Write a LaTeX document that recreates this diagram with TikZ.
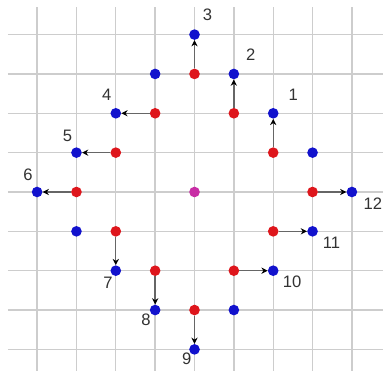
\documentclass[tikz,border=0pt]{standalone}
\usepackage{fontspec}
\setmainfont{Liberation Sans}
\usetikzlibrary{arrows.meta}
\definecolor{dotred}{RGB}{222,22,28}
\definecolor{dotblue}{RGB}{18,18,205}
\definecolor{dotmag}{RGB}{200,45,165}
\definecolor{gridgray}{RGB}{205,205,205}
\definecolor{labgray}{RGB}{50,50,50}
\tikzset{
  dotbase/.style={circle,inner sep=0pt,minimum size=0.27cm},
  reddot/.style={dotbase,fill=dotred},
  bluedot/.style={dotbase,fill=dotblue},
  magdot/.style={dotbase,fill=dotmag},
  arr/.style={draw=black!60,line width=1pt,-{Stealth[length=4.5pt,width=4.5pt,black]}},
  lab/.style={text=labgray,font=\fontsize{12}{14}\selectfont,inner sep=0pt},
  gridline/.style={draw=gridgray,line width=1pt}
}
\begin{document}
\begin{tikzpicture}
\useasboundingbox (-4.943,-4.549) rectangle (4.790,4.879);
\fill[white] (-4.943,-4.549) rectangle (4.790,4.879);
\foreach \i in {-4,...,4} {
  \draw[gridline] (\i,4.70) -- (\i,-4.6);
  \draw[gridline] (-4.74,\i) -- (4.85,\i);
}
\node[magdot] (c) at (0,0) {};
% red points
\node[reddot] (r3) at (0,3) {};
\node[reddot] (r2) at (1,2) {};
\node[reddot] (r1) at (2,1) {};
\node[reddot] (r12) at (3,0) {};
\node[reddot] (r11) at (2,-1) {};
\node[reddot] (r10) at (1,-2) {};
\node[reddot] (r9) at (0,-3) {};
\node[reddot] (r8) at (-1,-2) {};
\node[reddot] (r7) at (-2,-1) {};
\node[reddot] (r6) at (-3,0) {};
\node[reddot] (r5) at (-2,1) {};
\node[reddot] (r4) at (-1,2) {};
% blue points
\node[bluedot] (b3) at (0,4) {};
\node[bluedot] (b2) at (1,3) {};
\node[bluedot] (b1) at (2,2) {};
\node[bluedot] (b12) at (4,0) {};
\node[bluedot] (b11) at (3,-1) {};
\node[bluedot] (b10) at (2,-2) {};
\node[bluedot] (b9) at (0,-4) {};
\node[bluedot] (b8) at (-1,-3) {};
\node[bluedot] (b7) at (-2,-2) {};
\node[bluedot] (b6) at (-4,0) {};
\node[bluedot] (b5) at (-3,1) {};
\node[bluedot] (b4) at (-2,2) {};
\node[bluedot] (x1) at (3,1) {};
\node[bluedot] (x2) at (1,-3) {};
\node[bluedot] (x3) at (-3,-1) {};
\node[bluedot] (x4) at (-1,3) {};
% arrows
\foreach \k in {1,...,12} {
  \draw[arr] (r\k) -- (b\k);
}
% labels
\node[lab] (l3) at ([shift={(0.33,0.51)}]b3.center) {3};
\node[lab] (l2) at ([shift={(0.43,0.48)}]b2.center) {2};
\node[lab] (l1) at ([shift={(0.51,0.46)}]b1.center) {1};
\node[lab] (l4) at ([shift={(-0.23,0.48)}]b4.center) {4};
\node[lab] (l5) at ([shift={(-0.23,0.43)}]b5.center) {5};
\node[lab] (l6) at ([shift={(-0.23,0.43)}]b6.center) {6};
\node[lab] (l7) at ([shift={(-0.20,-0.30)}]b7.center) {7};
\node[lab] (l8) at ([shift={(-0.23,-0.25)}]b8.center) {8};
\node[lab] (l9) at ([shift={(-0.20,-0.23)}]b9.center) {9};
\node[lab] (l10) at ([shift={(0.48,-0.28)}]b10.center) {10};
\node[lab] (l11) at ([shift={(0.48,-0.28)}]b11.center) {11};
\node[lab] (l12) at ([shift={(0.53,-0.30)}]b12.center) {12};
\end{tikzpicture}
\end{document}
